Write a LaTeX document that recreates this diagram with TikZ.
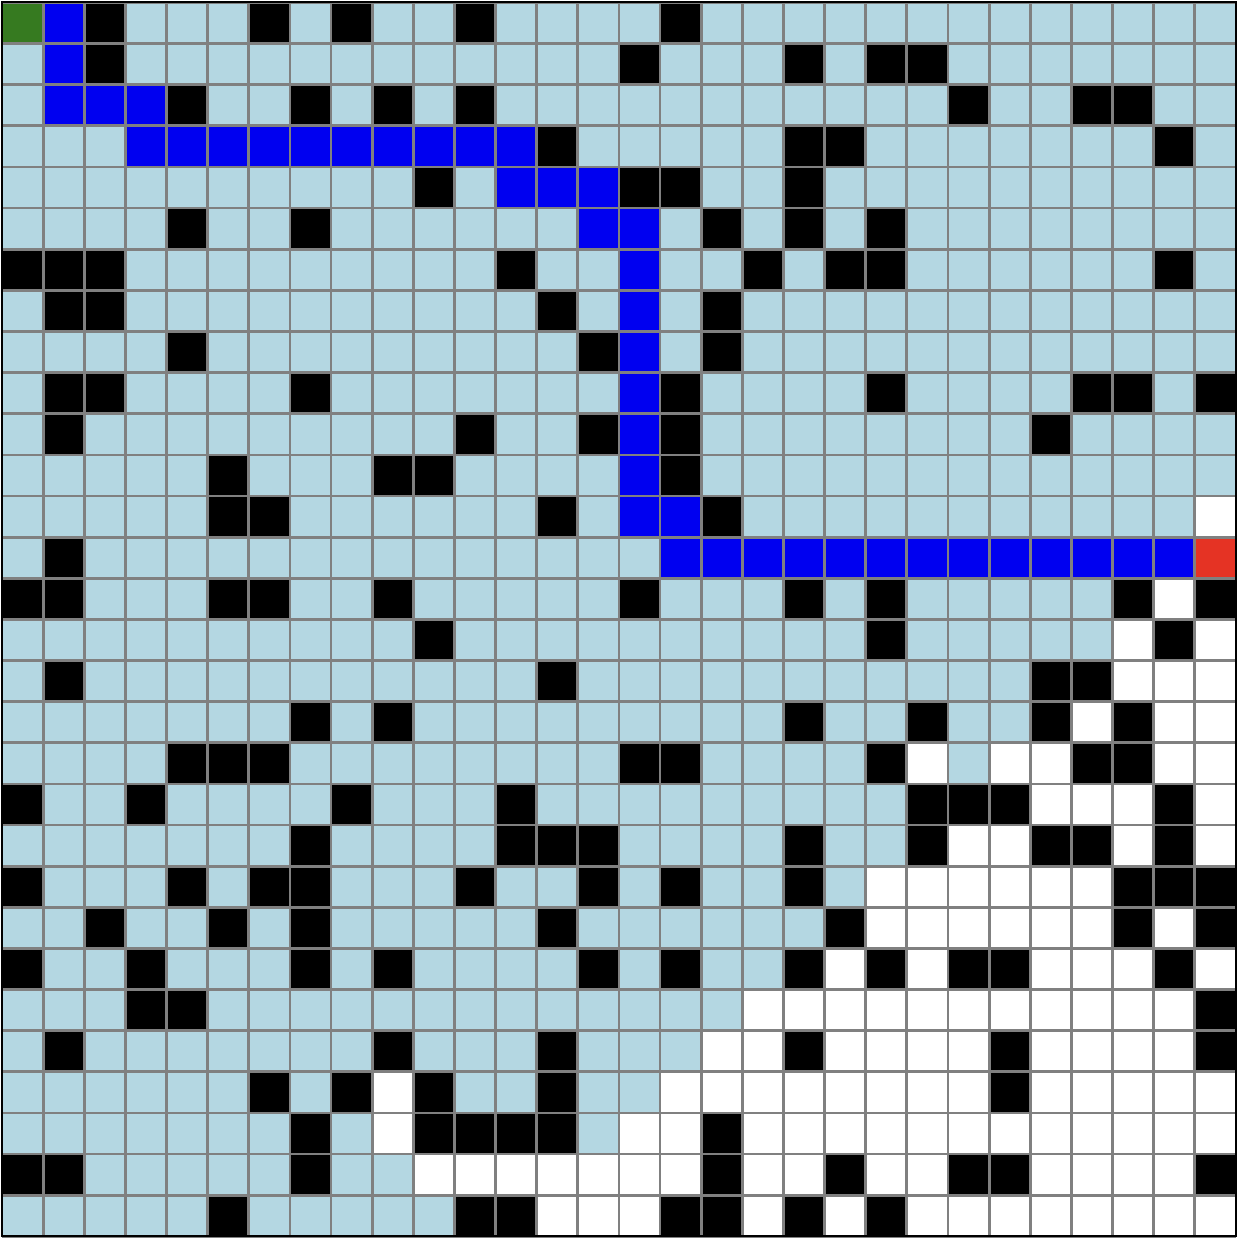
\documentclass[tikz,border=0pt]{standalone}
\usepackage{tikz}
\definecolor{floorblue}{RGB}{180,215,226}
\definecolor{routeblue}{RGB}{0,0,240}
\definecolor{startgreen}{RGB}{54,122,32}
\definecolor{goalred}{RGB}{229,51,36}
\begin{document}
\begin{tikzpicture}[y=-1cm,
    wall/.style={fill=black},
    unseen/.style={fill=white},
    route/.style={fill=routeblue},
    gridline/.style={draw=gray,line width=1.9pt},
    frame/.style={draw=black,line width=1.4pt}]
        \useasboundingbox (-0.05,-0.06) rectangle (30.1,30.04);
        % floor
        \fill[floorblue] (0,0) rectangle (30,30);
        % cells never reached
        \foreach \r/\cs in {12/{29},14/{28},15/{27,29},16/{27,28,29},17/{26,28,29},
            18/{22,24,25,28,29},19/{25,26,27,29},20/{23,24,27,29},21/{21,22,23,24,25,26},
            22/{21,22,23,24,25,26,28},23/{20,22,25,26,27,29},24/{18,...,28},
            25/{17,18,20,21,22,23,25,26,27,28},
            26/{9,16,17,18,19,20,21,22,23,25,26,27,28,29},
            27/{9,15,16,18,19,20,21,22,23,24,25,26,27,28,29},
            28/{10,11,12,13,14,15,16,18,19,21,22,25,26,27,28},
            29/{13,14,15,18,20,22,23,24,25,26,27,28,29}}
            \foreach \c in \cs
                \path[unseen] (\c,\r) rectangle ++(1,1);
        % walls
        \foreach \r/\cs in {0/{2,6,8,11,16},1/{2,15,19,21,22},2/{4,7,9,11,23,26,27},
            3/{13,19,20,28},4/{10,15,16,19},5/{4,7,17,19,21},6/{0,1,2,12,18,20,21,28},
            7/{1,2,13,17},8/{4,14,17},9/{1,2,7,16,21,26,27,29},10/{1,11,14,16,25},
            11/{5,9,10,16},12/{5,6,13,17},13/{1},14/{0,1,5,6,9,15,19,21,27,29},
            15/{10,21,28},16/{1,13,25,26},17/{7,9,19,22,25,27},
            18/{4,5,6,15,16,21,26,27},19/{0,3,8,12,22,23,24,28},
            20/{7,12,13,14,19,22,25,26,28},21/{0,4,6,7,11,14,16,19,27,28,29},
            22/{2,5,7,13,20,27,29},23/{0,3,7,9,14,16,19,21,23,24,28},
            24/{3,4,29},25/{1,9,13,19,24,29},26/{6,8,10,13,24},
            27/{7,10,11,12,13,17},28/{0,1,7,17,20,23,24,29},29/{5,11,12,16,17,19,21}}
            \foreach \c in \cs
                \path[wall] (\c,\r) rectangle ++(1,1);
        % found route
        \foreach \r/\cs in {0/{1},1/{1},2/{1,2,3},3/{3,...,12},4/{12,13,14},5/{14,15},
            6/{15},7/{15},8/{15},9/{15},10/{15},11/{15},12/{15,16},13/{16,...,28}}
            \foreach \c in \cs
                \path[route] (\c,\r) rectangle ++(1,1);
        \fill[startgreen] (0,0) rectangle (1,1);
        \fill[goalred] (29,13) rectangle (30,14);
        \draw[gridline] (0,0) grid (30,30);
        \draw[frame] (0,0) rectangle (30,30);
    \end{tikzpicture}
\end{document}
